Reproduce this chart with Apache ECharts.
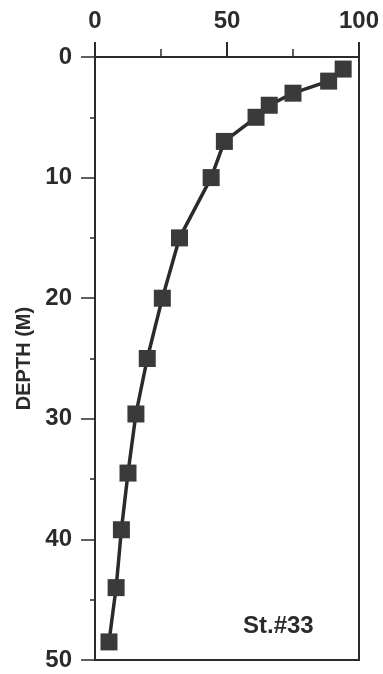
<!DOCTYPE html>
<html>
<head>
<meta charset="utf-8">
<script src="https://cdn.jsdelivr.net/npm/echarts@6/dist/echarts.min.js"></script>
<style>
  html, body { margin: 0; padding: 0; background: #fff; }
  #chart { width: 383px; height: 674px; }
</style>
</head>
<body>
<div id="chart"></div>
<script>
// values (x = percent, y = depth in m)
const depths = [1, 2, 3, 4, 5, 7, 10, 15, 20, 25, 29.6, 34.5, 39.2, 44, 48.5];
const values = [94, 88.5, 75, 66, 61, 49, 44, 32, 25.5, 19.8, 15.5, 12.5, 10, 8, 5.3];
const stationLabel = 'St.#33';
const depthTitle = 'DEPTH (M)';

const ink = '#2b2b2b';
const chart = echarts.init(document.getElementById('chart'));

const points = depths.map((d, i) => [values[i], d]);

chart.setOption({
  backgroundColor: '#fff',
  animation: false,
  grid: {
    left: 95, right: 24, top: 57, bottom: 14,
    show: true, borderColor: ink, borderWidth: 2
  },
  xAxis: {
    type: 'value', position: 'top',
    min: 0, max: 100, interval: 50,
    axisLine: { show: true, lineStyle: { color: ink, width: 2 } },
    axisTick: { show: true, inside: false, length: 15, lineStyle: { color: ink, width: 2 } },
    minorTick: { show: true, splitNumber: 2, length: 8, lineStyle: { color: ink, width: 1.5 } },
    splitLine: { show: false },
    axisLabel: { color: ink, fontSize: 24, fontWeight: 'bold', fontFamily: 'Liberation Sans, Arial', margin: 24 }
  },
  yAxis: {
    type: 'value', inverse: true,
    min: 0, max: 50, interval: 10,
    name: depthTitle, nameLocation: 'middle', nameGap: 58, nameRotate: 90,
    nameTextStyle: { color: ink, fontSize: 20, fontWeight: 'bold', fontFamily: 'Liberation Sans Narrow, Liberation Sans, Arial' },
    axisLine: { show: true, lineStyle: { color: ink, width: 2 } },
    axisTick: { show: true, inside: false, length: 14, lineStyle: { color: ink, width: 1.5 } },
    minorTick: { show: true, splitNumber: 2, length: 5, lineStyle: { color: ink, width: 1.5 } },
    splitLine: { show: false },
    axisLabel: { color: ink, fontSize: 24, fontWeight: 'bold', fontFamily: 'Liberation Sans, Arial', margin: 23 }
  },
  graphic: [{
    type: 'text', left: 243, top: 614,
    style: { text: stationLabel, fill: ink, font: 'bold 24px Liberation Sans, Arial' }
  }],
  series: [{
    type: 'line',
    data: points,
    symbol: 'rect', symbolSize: 17,
    itemStyle: { color: '#3a3a3a' },
    lineStyle: { color: ink, width: 3.5 }
  }]
});
</script>
</body>
</html>
